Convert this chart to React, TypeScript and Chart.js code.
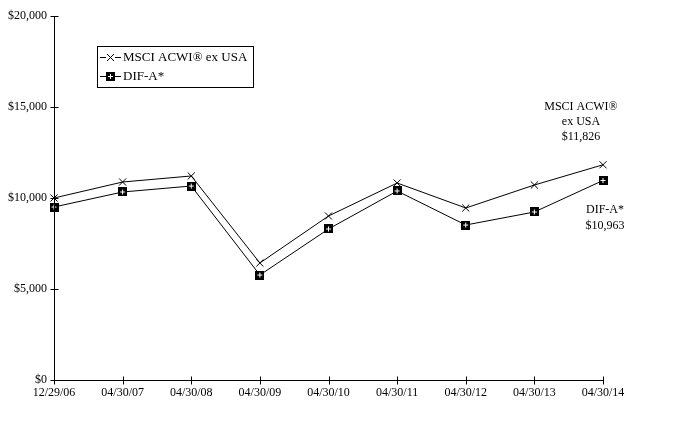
import React, { useEffect, useRef } from 'react';
import { Chart, registerables } from 'chart.js';

Chart.register(...registerables);

const categories = ['12/29/06', '04/30/07', '04/30/08', '04/30/09', '04/30/10', '04/30/11', '04/30/12', '04/30/13', '04/30/14'];
const msciValues = [10000, 10879, 11210, 6429, 9011, 10824, 9451, 10714, 11826];
const difValues = [9505, 10330, 10659, 5769, 8297, 10385, 8516, 9231, 10963];
const yTicks = [0, 5000, 10000, 15000, 20000];
const seriesNames = ['MSCI ACWI\u00AE ex USA', 'DIF-A*'];
const msciEndLabel = ['MSCI ACWI\u00AE', 'ex USA', '$11,826'];
const difEndLabel = ['DIF-A*', '$10,963'];

const FONT = "'Liberation Serif', 'Times New Roman', serif";

function makeSquarePlus(): HTMLCanvasElement {
  const c = document.createElement('canvas');
  c.width = 9;
  c.height = 9;
  const g = c.getContext('2d')!;
  g.fillStyle = '#000';
  g.fillRect(0, 0, 9, 9);
  g.fillStyle = '#fff';
  g.fillRect(4, 2, 1, 5);
  g.fillRect(2, 4, 5, 1);
  return c;
}

function drawCross(ctx: CanvasRenderingContext2D, x: number, y: number, r: number) {
  ctx.beginPath();
  ctx.moveTo(x - r, y - r);
  ctx.lineTo(x + r, y + r);
  ctx.moveTo(x - r, y + r);
  ctx.lineTo(x + r, y - r);
  ctx.stroke();
}

export default function App() {
  const ref = useRef<HTMLCanvasElement | null>(null);

  useEffect(() => {
    document.body.style.margin = '0';
    const canvas = ref.current;
    if (!canvas) return;
    const sq = makeSquarePlus();

    const decor = {
      id: 'decor',
      afterDraw(chart: any) {
        const ctx: CanvasRenderingContext2D = chart.ctx;
        const area = chart.chartArea;
        const xs = chart.scales.x;
        const ys = chart.scales.y;
        ctx.save();
        ctx.strokeStyle = '#000';
        ctx.lineWidth = 1;
        // axes
        const ax = Math.round(area.left) + 0.5;
        const ay = Math.round(area.bottom) + 0.5;
        ctx.beginPath();
        ctx.moveTo(ax, Math.round(area.top));
        ctx.lineTo(ax, ay);
        ctx.lineTo(Math.round(area.right) + 1, ay);
        // y ticks
        yTicks.forEach((v) => {
          const py = Math.round(ys.getPixelForValue(v)) + 0.5;
          ctx.moveTo(ax - 4, py);
          ctx.lineTo(ax + 4, py);
        });
        categories.forEach((_, i) => {
          const px = Math.round(xs.getPixelForValue(i)) + 0.5;
          ctx.moveTo(px, ay - 4);
          ctx.lineTo(px, ay + 4);
        });
        ctx.stroke();

        // legend box
        const lx = 97, ly = 46, lw = 156, lh = 41;
        ctx.strokeRect(lx + 0.5, ly + 0.5, lw, lh);
        ctx.font = `13px ${FONT}`;
        ctx.fillStyle = '#000';
        ctx.textBaseline = 'middle';
        ctx.textAlign = 'left';
        const rows = [ly + 11, ly + 30];
        rows.forEach((ry, i) => {
          const yy = Math.round(ry) + 0.5;
          ctx.beginPath();
          ctx.moveTo(lx + 3, yy);
          ctx.lineTo(lx + 24, yy);
          ctx.stroke();
          if (i === 0) {
            ctx.fillStyle = '#fff';
            ctx.fillRect(lx + 9, yy - 4, 9, 8);
            ctx.fillStyle = '#000';
            drawCross(ctx, lx + 13.5, yy, 3.5);
          } else {
            ctx.drawImage(sq, lx + 9, Math.round(ry) - 4);
          }
          ctx.fillText(seriesNames[i], lx + 26, ry + 1);
        });

        // end labels
        ctx.font = `12px ${FONT}`;
        ctx.textAlign = 'center';
        const m0 = chart.getDatasetMeta(0).data;
        const m1 = chart.getDatasetMeta(1).data;
        const pm = m0[m0.length - 1];
        const pd = m1[m1.length - 1];
        msciEndLabel.forEach((t, i) => {
          ctx.fillText(t, pm.x - 22, pm.y - 58 + i * 15);
        });
        difEndLabel.forEach((t, i) => {
          ctx.fillText(t, pd.x + 2, pd.y + 29 + i * 16);
        });
        ctx.restore();
      },
    };

    const chart = new Chart(canvas, {
      type: 'line',
      data: {
        labels: categories,
        datasets: [
          {
            label: seriesNames[0],
            data: msciValues,
            borderColor: '#000',
            borderWidth: 1,
            backgroundColor: '#000',
            pointStyle: 'crossRot',
            pointRadius: 5,
            pointBorderColor: '#000',
            pointBorderWidth: 1,
            tension: 0,
            fill: false,
          },
          {
            label: seriesNames[1],
            data: difValues,
            borderColor: '#000',
            borderWidth: 1,
            backgroundColor: '#000',
            pointStyle: sq as any,
            pointRadius: 5,
            tension: 0,
            fill: false,
          },
        ],
      },
      options: {
        responsive: false,
        devicePixelRatio: 1,
        animation: false,
        layout: { padding: { left: 0, right: 70, top: 16, bottom: 0 } },
        plugins: {
          legend: { display: false },
          tooltip: { enabled: false },
        },
        scales: {
          x: {
            type: 'category',
            offset: false,
            grid: { display: false, drawTicks: false },
            border: { display: false },
            ticks: {
              color: '#000',
              font: { family: FONT, size: 12 },
              padding: 6,
              autoSkip: false,
              maxRotation: 0,
              minRotation: 0,
            },
            afterFit: (s: any) => {
              s.height = 45;
            },
          },
          y: {
            min: 0,
            max: 20000,
            grid: { display: false, drawTicks: false },
            border: { display: false },
            afterBuildTicks: (s: any) => {
              s.ticks = yTicks.map((v) => ({ value: v }));
            },
            ticks: {
              color: '#000',
              font: { family: FONT, size: 12 },
              padding: 7,
              callback: (v: any) => '$' + Number(v).toLocaleString('en-US'),
            },
            afterFit: (s: any) => {
              s.width = 54;
            },
          },
        },
      },
      plugins: [decor],
    });
    return () => chart.destroy();
  }, []);

  return (
    <div style={{ width: 673, height: 425 }}>
      <canvas ref={ref} width={673} height={425} style={{ display: 'block' }} />
    </div>
  );
}
